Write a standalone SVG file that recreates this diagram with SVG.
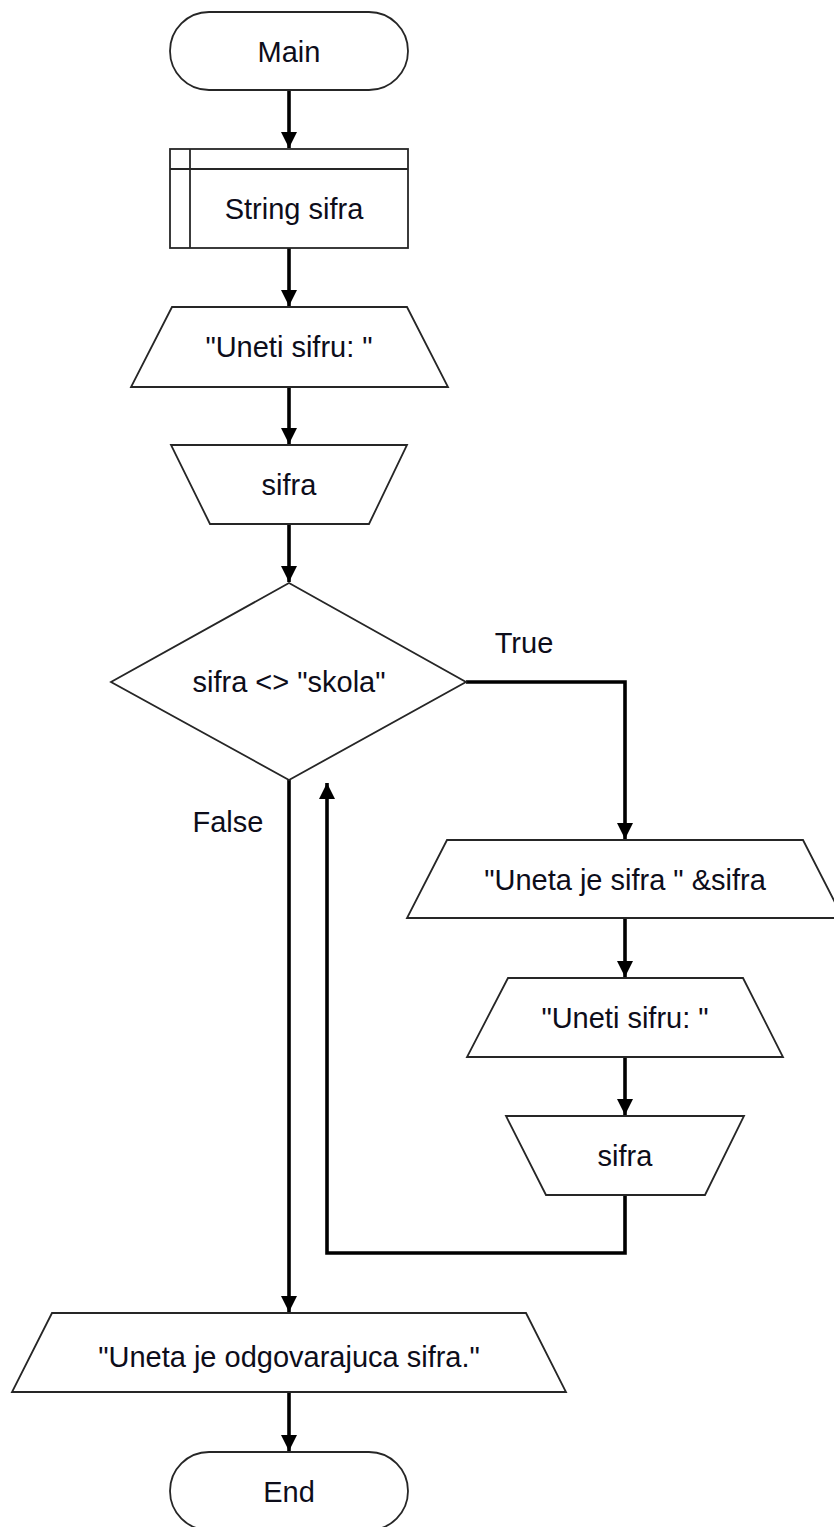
<svg xmlns="http://www.w3.org/2000/svg" width="834" height="1527" viewBox="0 0 834 1527">
<defs>
<style>
.shape{fill:#fff;stroke:#262626;stroke-width:1.8}
.conn{fill:none;stroke:#000;stroke-width:3.6}
.t{font-family:"Liberation Sans",Arial,sans-serif;font-size:29px;fill:#0d0d1a;text-anchor:middle}
</style>
<marker id="arr" markerUnits="userSpaceOnUse" markerWidth="17" markerHeight="17" refX="16" refY="8" orient="auto" viewBox="0 0 17 17">
<path d="M0,0 L16,8 L0,16 z" fill="#000"/>
</marker>
</defs>
<rect width="834" height="1527" fill="#fff"/>
<g id="connectors">
<path class="conn" d="M289,90 V148" marker-end="url(#arr)"/>
<path class="conn" d="M289,248 V306" marker-end="url(#arr)"/>
<path class="conn" d="M289,387 V444" marker-end="url(#arr)"/>
<path class="conn" d="M289,524 V582" marker-end="url(#arr)"/>
<path class="conn" d="M466,682 H625 V839" marker-end="url(#arr)"/>
<path class="conn" d="M289,780 V1312" marker-end="url(#arr)"/>
<path class="conn" d="M625,918 V977" marker-end="url(#arr)"/>
<path class="conn" d="M625,1057 V1115" marker-end="url(#arr)"/>
<path class="conn" d="M625,1195 V1253 H327 V783" marker-end="url(#arr)"/>
<path class="conn" d="M289,1392 V1451" marker-end="url(#arr)"/>
<text class="t" x="524" y="653">True</text>
<text class="t" x="228" y="832">False</text>
</g>
<g id="main">
<rect class="shape" x="170" y="12" width="238" height="78" rx="39"/>
<text class="t" x="289" y="62">Main</text>
</g>
<g id="declare">
<rect class="shape" x="170" y="149" width="238" height="99"/>
<line class="shape" x1="190" y1="149" x2="190" y2="248"/>
<line class="shape" x1="170" y1="169" x2="408" y2="169"/>
<text class="t" x="294" y="219">String sifra</text>
</g>
<g id="output1">
<polygon class="shape" points="172,307 407,307 448,387 131,387"/>
<text class="t" x="289" y="357">"Uneti sifru: "</text>
</g>
<g id="input1">
<polygon class="shape" points="171,445 407,445 369,524 210,524"/>
<text class="t" x="289" y="495">sifra</text>
</g>
<g id="decision">
<polygon class="shape" points="289,583 466,682 289,780 111,682"/>
<text class="t" x="289" y="692">sifra &lt;&gt; "skola"</text>
</g>
<g id="output2">
<polygon class="shape" points="447,840 803,840 843,918 407,918"/>
<text class="t" x="625" y="890">"Uneta je sifra " &amp;sifra</text>
</g>
<g id="output3">
<polygon class="shape" points="508,978 743,978 783,1057 467,1057"/>
<text class="t" x="625" y="1028">"Uneti sifru: "</text>
</g>
<g id="input2">
<polygon class="shape" points="506,1116 744,1116 705,1195 546,1195"/>
<text class="t" x="625" y="1166">sifra</text>
</g>
<g id="output4">
<polygon class="shape" points="52,1313 526,1313 566,1392 12,1392"/>
<text class="t" x="289" y="1367">"Uneta je odgovarajuca sifra."</text>
</g>
<g id="end">
<rect class="shape" x="170" y="1452" width="238" height="78" rx="39"/>
<text class="t" x="289" y="1502">End</text>
</g>
</svg>
